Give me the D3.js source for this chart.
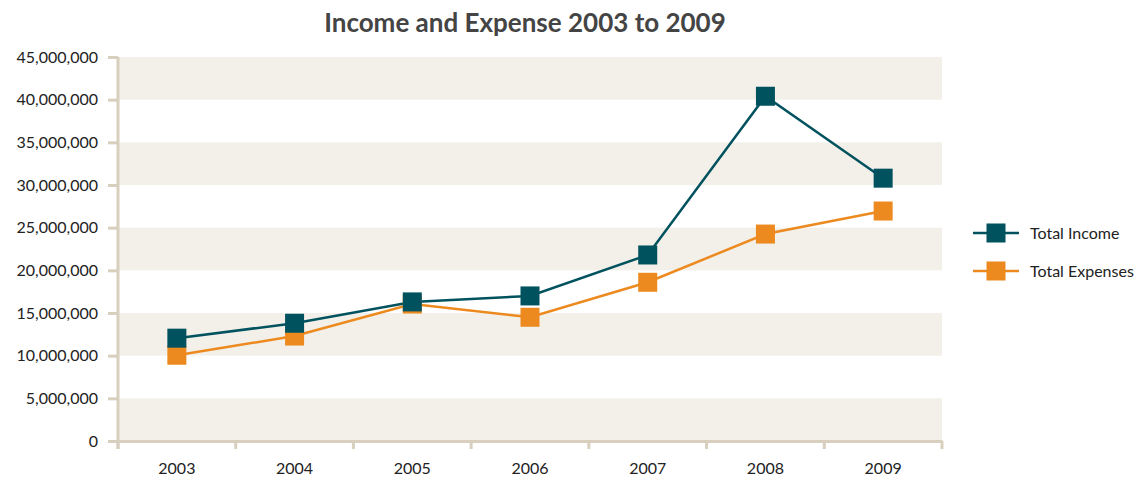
<!DOCTYPE html>
<html>
<head>
<meta charset="utf-8">
<script src="https://cdn.jsdelivr.net/npm/d3@7"></script>
<style>
  body { margin: 0; background: #fff; }
  text { font-family: Lato, "Open Sans", sans-serif; fill: #222; }
</style>
</head>
<body>
<div id="chart"></div>
<script>
// DATA
const years = ["2003", "2004", "2005", "2006", "2007", "2008", "2009"];
const totalIncome = [12050000, 13800000, 16300000, 17000000, 21800000, 40400000, 30800000];
const totalExpenses = [10050000, 12300000, 16050000, 14500000, 18600000, 24250000, 26950000];
const yTicks = [0, 5000000, 10000000, 15000000, 20000000, 25000000, 30000000, 35000000, 40000000, 45000000];
const seriesNames = ["Total Income", "Total Expenses"];

// SIZES & COLORS
const width = 1142, height = 484;
const margin = {top: 57, right: 200, bottom: 43, left: 118};
const colors = ["#00525e", "#ec8a1f"];
const axisColor = "#d8cfbf";
const bandColor = "#f3f0e9";

const svg = d3.select("#chart").append("svg")
    .attr("width", width)
    .attr("height", height);

const x = d3.scaleBand()
    .domain(years)
    .range([margin.left, width - margin.right]);

const y = d3.scaleLinear()
    .domain([0, 45000000])
    .range([height - margin.bottom, margin.top]);

// TITLE
svg.append("text")
    .attr("x", 525)
    .attr("y", 32)
    .attr("text-anchor", "middle")
    .style("font-size", "26px")
    .style("font-weight", "bold")
    .style("fill", "#444")
    .text("Income and Expense 2003 to 2009");

// BANDS
svg.append("g").selectAll("rect")
    .data(yTicks.slice(0, -1).filter((d, i) => i % 2 === 0))
    .enter().append("rect")
    .attr("x", margin.left)
    .attr("width", width - margin.right - margin.left)
    .attr("y", d => y(d + 5000000))
    .attr("height", d => y(d) - y(d + 5000000))
    .attr("fill", bandColor);

// Y AXIS
const yAxis = svg.append("g")
    .attr("transform", "translate(" + margin.left + ",0)")
    .call(d3.axisLeft(y).tickValues(yTicks).tickFormat(d3.format(",")).tickSize(10).tickPadding(10));

// X AXIS
const xAxis = svg.append("g")
    .attr("transform", "translate(0," + y(0) + ")")
    .call(d3.axisBottom(x).tickSize(0).tickPadding(22));

// category boundary ticks
xAxis.selectAll(".boundary")
    .data(years.map(d => x(d)).concat([x.range()[1]]))
    .enter().append("line")
    .attr("x1", d => d).attr("x2", d => d)
    .attr("y1", 0).attr("y2", 8)
    .attr("stroke", axisColor)
    .attr("stroke-width", 3);

[yAxis, xAxis].forEach(function (a) {
    a.select(".domain").attr("stroke", axisColor).attr("stroke-width", 3);
    a.selectAll(".tick line").attr("stroke", axisColor).attr("stroke-width", 3);
    a.selectAll("text").style("font-size", "16px").style("fill", "#222");
});
yAxis.select(".domain").attr("d", "M0," + y(45000000) + "V" + (y(0) + 8));

// LINES
const line = d3.line()
    .x((d, i) => x(years[i]) + x.bandwidth() / 2)
    .y(d => y(d));

const series = [totalExpenses, totalIncome];
const seriesColors = [colors[1], colors[0]];
const sq = 19;

series.forEach(function (s, k) {
    svg.append("path")
        .datum(s)
        .attr("d", line)
        .attr("fill", "none")
        .attr("stroke", seriesColors[k])
        .attr("stroke-width", 2.5);
});
series.forEach(function (s, k) {
    svg.append("g").selectAll("rect")
        .data(s)
        .enter().append("rect")
        .attr("x", (d, i) => x(years[i]) + x.bandwidth() / 2 - sq / 2)
        .attr("y", d => y(d) - sq / 2)
        .attr("width", sq)
        .attr("height", sq)
        .attr("fill", seriesColors[k]);
});

// LEGEND
const legend = svg.append("g")
    .selectAll("g")
    .data(seriesNames)
    .enter().append("g")
    .attr("transform", (d, i) => "translate(973," + (233 + i * 38) + ")");

legend.append("line")
    .attr("x1", 0).attr("x2", 46)
    .attr("stroke", (d, i) => colors[i])
    .attr("stroke-width", 2.5);
legend.append("rect")
    .attr("x", 23 - sq / 2).attr("y", -sq / 2)
    .attr("width", sq).attr("height", sq)
    .attr("fill", (d, i) => colors[i]);
legend.append("text")
    .attr("x", 57)
    .attr("dy", "0.35em")
    .style("font-size", "16px")
    .text(d => d);
</script>
</body>
</html>
